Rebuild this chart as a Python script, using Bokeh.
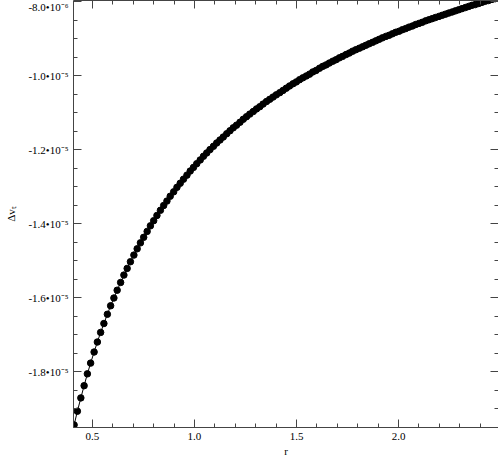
from bokeh.plotting import figure
from bokeh.models import Range1d, LinearAxis, FixedTicker, CustomJSTickFormatter, ColumnDataSource
from bokeh.embed import file_html
from bokeh.resources import INLINE

r = [0.410, 0.426, 0.443, 0.459, 0.475, 0.491, 0.508, 0.524, 0.540, 0.556, 0.573, 0.589, 0.605, 0.621,
     0.638, 0.654, 0.670, 0.686, 0.703, 0.719, 0.735, 0.751, 0.768, 0.784, 0.800, 0.816, 0.833, 0.849,
     0.865, 0.881, 0.898, 0.914, 0.930, 0.946, 0.963, 0.979, 0.995, 1.011, 1.028, 1.044, 1.060, 1.076,
     1.093, 1.109, 1.125, 1.141, 1.158, 1.174, 1.190, 1.206, 1.223, 1.239, 1.255, 1.271, 1.288, 1.304,
     1.320, 1.336, 1.353, 1.369, 1.385, 1.401, 1.418, 1.434, 1.450, 1.466, 1.483, 1.499, 1.515, 1.531,
     1.548, 1.564, 1.580, 1.596, 1.613, 1.629, 1.645, 1.661, 1.678, 1.694, 1.710, 1.726, 1.743, 1.759,
     1.775, 1.791, 1.808, 1.824, 1.840, 1.856, 1.873, 1.889, 1.905, 1.921, 1.938, 1.954, 1.970, 1.986,
     2.003, 2.019, 2.035, 2.051, 2.068, 2.084, 2.100, 2.116, 2.133, 2.149, 2.165, 2.181, 2.198, 2.214,
     2.230, 2.246, 2.263, 2.279, 2.295, 2.311, 2.328, 2.344, 2.360, 2.376, 2.393, 2.409, 2.425, 2.441,
     2.458, 2.474, 2.490]

# delta v_t in units of 1e-6
dvt_e6 = [-19.44, -19.07, -18.71, -18.38, -18.06, -17.77, -17.47, -17.20, -16.94, -16.70, -16.45, -16.22,
          -16.01, -15.80, -15.59, -15.39, -15.21, -15.03, -14.85, -14.68, -14.52, -14.37, -14.21, -14.06,
          -13.92, -13.78, -13.64, -13.51, -13.39, -13.26, -13.14, -13.02, -12.91, -12.80, -12.69, -12.58,
          -12.48, -12.38, -12.28, -12.18, -12.09, -12.00, -11.91, -11.82, -11.74, -11.66, -11.57, -11.49,
          -11.41, -11.34, -11.26, -11.18, -11.11, -11.04, -10.97, -10.90, -10.84, -10.77, -10.70, -10.64,
          -10.58, -10.52, -10.46, -10.40, -10.34, -10.28, -10.22, -10.17, -10.11, -10.06, -10.01, -9.96,
          -9.90, -9.86, -9.80, -9.75, -9.71, -9.66, -9.61, -9.57, -9.52, -9.48, -9.43, -9.39, -9.34, -9.30,
          -9.26, -9.22, -9.18, -9.14, -9.10, -9.06, -9.02, -8.98, -8.94, -8.91, -8.87, -8.83, -8.80, -8.76,
          -8.73, -8.69, -8.66, -8.62, -8.59, -8.56, -8.52, -8.49, -8.46, -8.43, -8.40, -8.37, -8.34, -8.31,
          -8.28, -8.25, -8.22, -8.19, -8.16, -8.13, -8.10, -8.08, -8.05, -8.02, -7.99, -7.97, -7.94, -7.92,
          -7.89]

x_ticks = [0.5, 1.0, 1.5, 2.0]
x_tick_labels = ["0.5", "1.0", "1.5", "2.0"]
x_minor = [0.6, 0.7, 0.8, 0.9, 1.1, 1.2, 1.3, 1.4, 1.6, 1.7, 1.8, 1.9, 2.1, 2.2, 2.3, 2.4]
y_ticks = [-8.0e-6, -1.0e-5, -1.2e-5, -1.4e-5, -1.6e-5, -1.8e-5]
y_tick_labels = ["-8.0\u202210\u207b\u2076", "-1.0\u202210\u207b\u2075", "-1.2\u202210\u207b\u2075",
                 "-1.4\u202210\u207b\u2075", "-1.6\u202210\u207b\u2075", "-1.8\u202210\u207b\u2075"]
y_minor = [-8.5e-6, -9.0e-6, -9.5e-6, -1.05e-5, -1.1e-5, -1.15e-5, -1.25e-5, -1.3e-5, -1.35e-5,
           -1.45e-5, -1.5e-5, -1.55e-5, -1.65e-5, -1.7e-5, -1.75e-5, -1.85e-5, -1.9e-5, -1.95e-5]

dvt = [v * 1e-6 for v in dvt_e6]
src = ColumnDataSource(dict(r=r, dvt=dvt))

FONT = "Liberation Serif"
AX = "#444444"

p = figure(frame_width=425, frame_height=427,
           x_range=Range1d(0.407, 2.49), y_range=Range1d(-1.951e-5, -7.97e-6),
           output_backend="svg", toolbar_location=None,
           min_border_left=73, min_border_right=0, min_border_top=0, min_border_bottom=28)
p.xgrid.visible = False
p.ygrid.visible = False
p.outline_line_color = None
p.background_fill_color = "white"
p.border_fill_color = "white"

p.line("r", "dvt", source=src, line_color="black", line_width=1)
p.scatter("r", "dvt", source=src, size=6.5, fill_color="black", line_color="black")

LOOKUP = """
let best = 0, d = Infinity;
for (let i = 0; i < tvals.length; i++) {
  const dd = Math.abs(tvals[i] - tick);
  if (dd < d) { d = dd; best = i; }
}
return tlabels[best];
"""
yfmt = CustomJSTickFormatter(args=dict(tvals=y_ticks, tlabels=y_tick_labels), code=LOOKUP)
xfmt = CustomJSTickFormatter(args=dict(tvals=x_ticks, tlabels=x_tick_labels), code=LOOKUP)

def style(ax, show_labels=True):
    ax.major_tick_in = 8
    ax.major_tick_out = 0
    ax.minor_tick_in = 4
    ax.minor_tick_out = 0
    ax.axis_line_color = AX
    ax.major_tick_line_color = AX
    ax.minor_tick_line_color = AX
    ax.major_label_text_font = FONT
    ax.axis_label_text_font = FONT
    ax.axis_label_text_font_style = "normal"
    ax.axis_label_text_font_size = "11px"
    ax.axis_label_text_color = "black"
    ax.major_label_text_color = "black"
    ax.major_label_text_font_size = "11px"
    if show_labels:
        ax.major_label_standoff = 5
    else:
        ax.major_label_standoff = 0
        ax.formatter = CustomJSTickFormatter(code="return '';")

p.xaxis.ticker = FixedTicker(ticks=x_ticks, minor_ticks=x_minor)
p.yaxis.ticker = FixedTicker(ticks=y_ticks, minor_ticks=y_minor)
p.xaxis.formatter = xfmt
p.yaxis.formatter = yfmt
p.xaxis.axis_label = "r"
p.yaxis.axis_label = "\u0394v\u209c"
p.xaxis.axis_label_standoff = 2
p.yaxis.axis_label_standoff = 8
style(p.xaxis[0])
style(p.yaxis[0])

top = LinearAxis(ticker=FixedTicker(ticks=x_ticks, minor_ticks=x_minor))
right = LinearAxis(ticker=FixedTicker(ticks=y_ticks, minor_ticks=y_minor))
style(top, False)
style(right, False)
p.add_layout(top, "above")
p.add_layout(right, "right")

open("out.html", "w").write(file_html(p, INLINE))
